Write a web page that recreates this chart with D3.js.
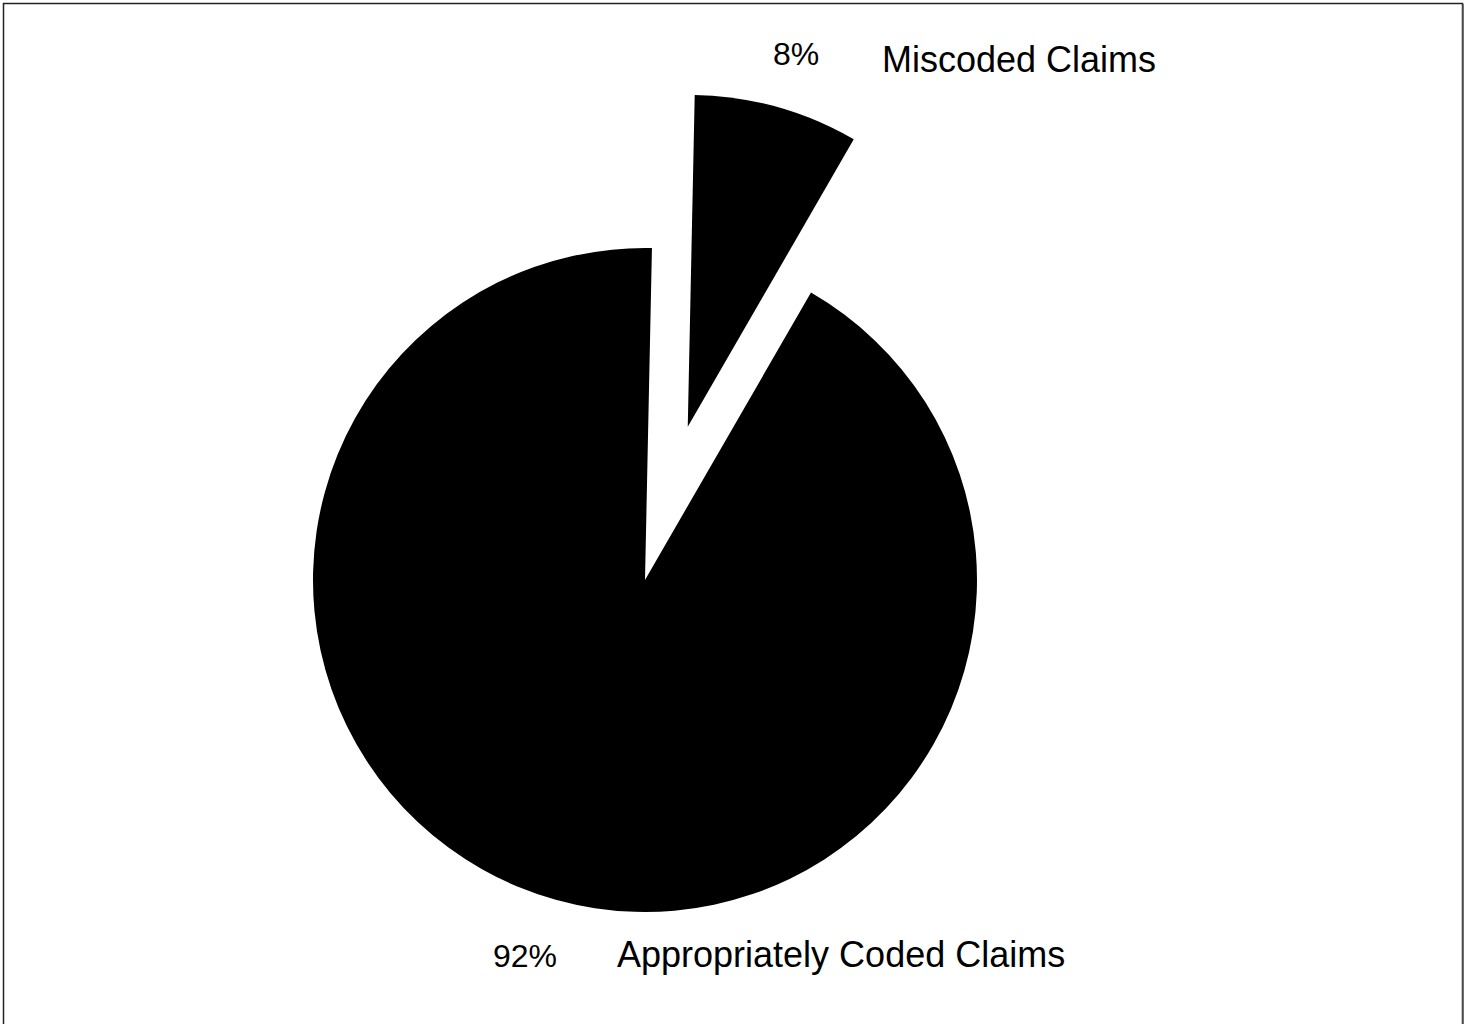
<!DOCTYPE html>
<html>
<head>
<meta charset="utf-8">
<script src="https://cdn.jsdelivr.net/npm/d3@7"></script>
<style>
  html, body { margin: 0; padding: 0; background: #fff; }
  svg { display: block; }
  text { font-family: "Liberation Sans", Arial, sans-serif; fill: #000; }
</style>
</head>
<body>
<svg id="chart" width="1468" height="1024"></svg>
<script>
// Data
const categories = ["Miscoded Claims", "Appropriately Coded Claims"];
const values = [8, 92];
const percentLabels = ["8%", "92%"];

const svg = d3.select("#chart");
const W = 1468, H = 1024;

// Frame
svg.append("rect")
  .attr("x", 3.5).attr("y", 3.5)
  .attr("width", 1459).attr("height", 1040)
  .attr("fill", "none").attr("stroke", "#222").attr("stroke-width", 1.5);
svg.append("line")
  .attr("x1", 1463).attr("x2", 1463).attr("y1", 4).attr("y2", H)
  .attr("stroke", "#555").attr("stroke-width", 1.5);

const cx = 645, cy = 580, R = 332, explode = 159;
const deg = Math.PI / 180;
const start = 30 * deg - (values[0] / d3.sum(values)) * 2 * Math.PI;

const pie = d3.pie().sort(null).value(d => d).startAngle(start).endAngle(start + 2 * Math.PI);
const arcs = pie(values);
const arc = d3.arc().innerRadius(0).outerRadius(R);

const g = svg.append("g").attr("transform", `translate(${cx},${cy})`);

g.selectAll("path.slice")
  .data(arcs)
  .join("path")
  .attr("class", "slice")
  .attr("fill", "#000")
  .attr("transform", (d, i) => {
    if (i !== 0) return null;
    const mid = (d.startAngle + d.endAngle) / 2;
    return `translate(${Math.sin(mid) * explode},${-Math.cos(mid) * explode})`;
  })
  .attr("d", arc);

// Labels
const pctSize = 32, nameSize = 36;
// Miscoded (top)
g.append("text")
  .attr("x", 151).attr("y", -515)
  .attr("text-anchor", "middle")
  .attr("font-size", pctSize)
  .text(percentLabels[0]);
g.append("text")
  .attr("x", 237).attr("y", -508)
  .attr("font-size", nameSize)
  .text(categories[0]);
// Appropriately coded (bottom)
g.append("text")
  .attr("x", -152).attr("y", 387)
  .attr("font-size", pctSize)
  .text(percentLabels[1]);
g.append("text")
  .attr("x", -28).attr("y", 387)
  .attr("font-size", nameSize)
  .text(categories[1]);
</script>
</body>
</html>
